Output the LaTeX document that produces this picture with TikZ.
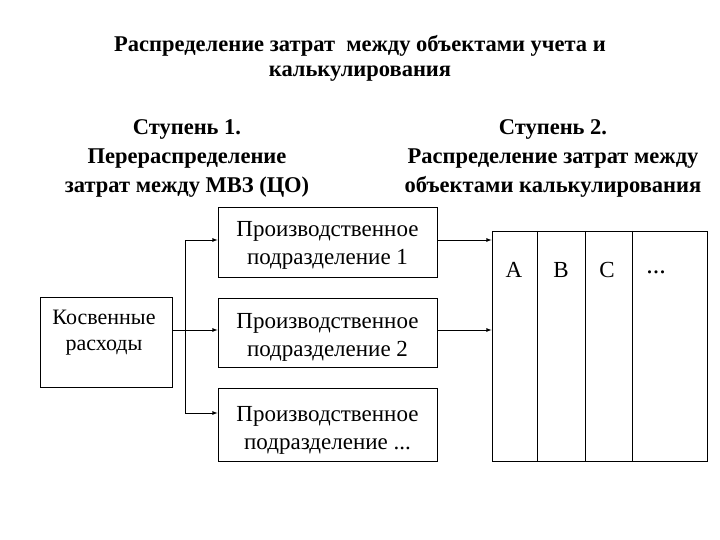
\documentclass[tikz,border=0pt]{standalone}
\usepackage{fontspec}
\setmainfont{Liberation Serif}
\begin{document}
\begin{tikzpicture}[x=1pt,y=-1pt,
 box/.style={draw,line width=0.8pt,inner sep=0pt},
 bt/.style={font=\fontsize{22.5}{29}\selectfont\bfseries,align=center},
 tt/.style={font=\fontsize{23}{28}\selectfont,align=center},
 arr/.style={->,line width=0.8pt,>=latex}]
\useasboundingbox (0,0) rectangle (720,540);
\node[font=\fontsize{22.5}{25}\selectfont\bfseries,align=center] (t) at (360,58) {Распределение затрат\ \ между объектами учета и\\калькулирования};
\node[bt] (h1) at (187,158) {Ступень 1.\\Перераспределение\\затрат между МВЗ (ЦО)};
\node[bt] (h2) at (553,158) {Ступень 2.\\Распределение затрат между\\объектами калькулирования};
\node[box,minimum width=132pt,minimum height=90pt] (k) at (106,342) {};
\node[font=\fontsize{22}{26}\selectfont,align=center] (kt) at (104,333) {Косвенные\\расходы};
\node[box,minimum width=219pt,minimum height=70pt] (p1) at (327.5,242) {};
\node[tt] (p1t) at (327.5,245) {Производственное\\подразделение 1};
\node[box,minimum width=219pt,minimum height=69pt] (p2) at (327.5,332.5) {};
\node[tt] (p2t) at (327.5,337) {Производственное\\подразделение 2};
\node[box,minimum width=219pt,minimum height=73pt] (p3) at (327.5,424.5) {};
\node[tt] (p3t) at (327.5,430) {Производственное\\подразделение ...};
\node[box,minimum width=215pt,minimum height=230pt] (r) at (599.5,346) {};
\draw[line width=0.8pt] (537,231) -- (537,461) (585,231) -- (585,461) (632,231) -- (632,461);
\node[tt] (a) at (514,270) {А};
\node[tt] (b) at (561,270) {В};
\node[tt] (c) at (607,270) {С};
\node[font=\fontsize{26}{26}\selectfont] (d) at (656,272) {...};
\coordinate (j) at (185,330);
\coordinate (j1) at (185,240);
\coordinate (j3) at (185,413);
\draw[line width=0.8pt] (k.east |- j) -- (j) (j1) -- (j3);
\draw[arr] (j1) -- (p1.west |- j1);
\draw[arr] (j) -- (p2.west |- j);
\draw[arr] (j3) -- (p3.west |- j3);
\draw[arr] (p1.east |- j1) -- (r.west |- j1);
\draw[arr] (p2.east |- j) -- (r.west |- j);
\end{tikzpicture}
\end{document}
